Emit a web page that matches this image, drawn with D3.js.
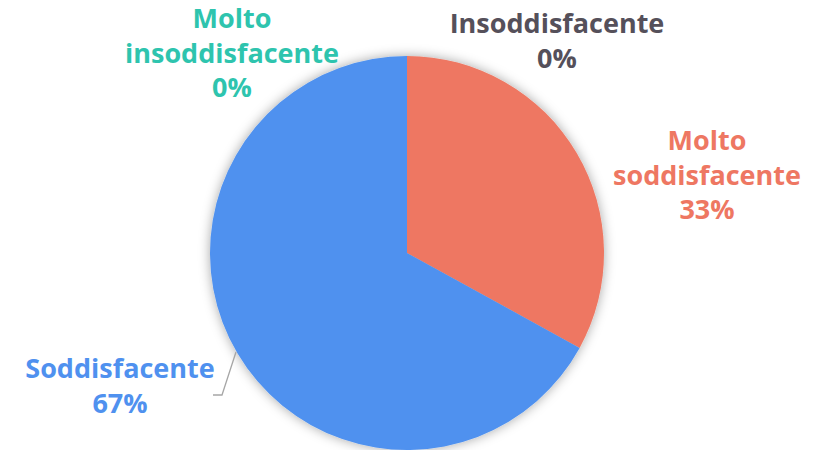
<!DOCTYPE html>
<html>
<head>
<meta charset="utf-8">
<script src="https://cdn.jsdelivr.net/npm/d3@7"></script>
<style>
  body { margin: 0; background: #fff; }
  text { font-family: "Open Sans", Lato, sans-serif; font-weight: 700; }
</style>
</head>
<body>
<div id="chart"></div>
<script>
const categories = ['Molto soddisfacente', 'Soddisfacente', 'Molto insoddisfacente', 'Insoddisfacente'];
const values = [33, 67, 0, 0];
const colors = ['#EE7762', '#4F91EF', '#2EC4AE', '#55505A'];
// label lines and where each label block sits
const labelLines = [['Molto', 'soddisfacente', '33%'], ['Soddisfacente', '67%'], ['Molto', 'insoddisfacente', '0%'], ['Insoddisfacente', '0%']];
const labelAt = [[707, 150], [120, 378], [232, 28], [557, 33]];

const width = 822, height = 450;
const cx = 407, cy = 253, r = 197;

const svg = d3.select('#chart').append('svg').attr('width', width).attr('height', height);

const defs = svg.append('defs');
const f = defs.append('filter').attr('id', 'shadow').attr('x', '-20%').attr('y', '-20%').attr('width', '140%').attr('height', '140%');
f.append('feDropShadow').attr('dx', 0).attr('dy', 0).attr('stdDeviation', 6).attr('flood-color', '#000').attr('flood-opacity', 0.35);

const data = categories.map((c, i) => ({ name: c, value: values[i], color: colors[i], i: i }));
const pie = d3.pie().sort(null).value(d => d.value);
const arc = d3.arc().innerRadius(0).outerRadius(r);

const g = svg.append('g').attr('transform', `translate(${cx},${cy})`).attr('filter', 'url(#shadow)');
g.selectAll('path').data(pie(data)).enter().append('path')
  .attr('d', arc)
  .attr('fill', d => d.data.color);

// leader line for Soddisfacente
svg.append('polyline')
  .attr('points', '236,352 222,395 213,395')
  .attr('fill', 'none').attr('stroke', '#A6A6A6').attr('stroke-width', 1.3);

const lineH = 34.5;
data.forEach((d, i) => {
  const t = svg.append('text')
    .attr('text-anchor', 'middle')
    .attr('fill', d.color)
    .attr('font-size', 27);
  labelLines[i].forEach((s, k) => {
    t.append('tspan').attr('x', labelAt[i][0]).attr('y', labelAt[i][1] + k * lineH).text(s);
  });
});
</script>
</body>
</html>
